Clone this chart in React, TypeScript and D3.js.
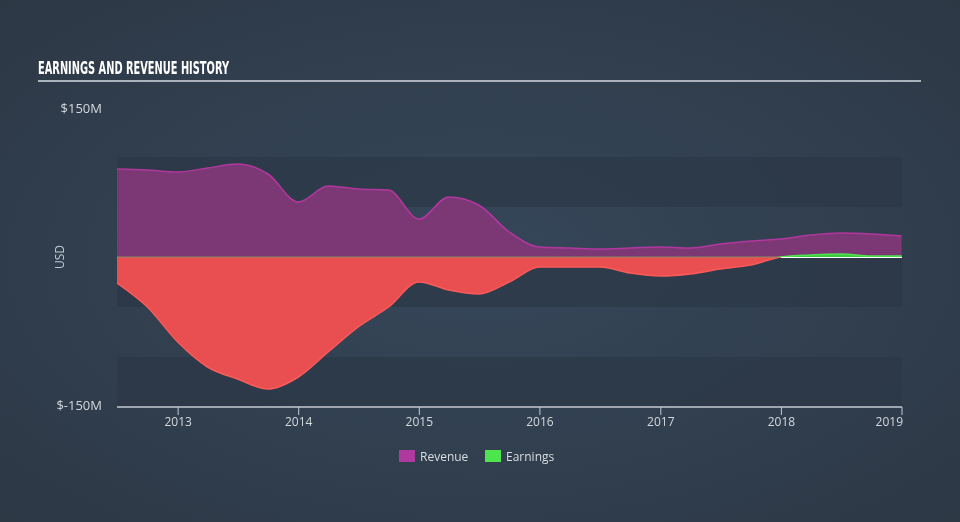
import React from "react";
import * as d3 from "d3";

const quarterDates: string[] = [
  "2012-06-30", "2012-09-30", "2012-12-31",
  "2013-03-31", "2013-06-30", "2013-09-30", "2013-12-31",
  "2014-03-31", "2014-06-30", "2014-09-30", "2014-12-31",
  "2015-03-31", "2015-06-30", "2015-09-30", "2015-12-31",
  "2016-03-31", "2016-06-30", "2016-09-30", "2016-12-31",
  "2017-03-31", "2017-06-30", "2017-09-30", "2017-12-31",
  "2018-03-31", "2018-06-30", "2018-09-30", "2018-12-31",
];
const revenue: number[] = [88, 87, 85, 89, 93, 83, 55, 71, 68, 67, 38, 60, 52, 25, 10, 9, 8, 9, 10, 9, 13, 16, 18, 22, 24, 23, 21];
const earnings: number[] = [-26, -50, -85, -110, -122, -132, -120, -95, -70, -50, -25, -33, -37, -25, -10, -10, -10, -16, -19, -17, -12, -8, 0, 2, 3, 1, 1];
const yearTicks: string[] = ["2013", "2014", "2015", "2016", "2017", "2018", "2019"];
const yTickLabels: { v: number; label: string }[] = [
  { v: 150, label: "$150M" },
  { v: -150, label: "$-150M" },
];
const bandRanges: [number, number][] = [[50, 100], [-50, 0], [-150, -100]];
const legendItems = [
  { name: "Revenue", color: "#b0399f" },
  { name: "Earnings", color: "#4ee44e" },
];

const W = 960, H = 522;
const M = { left: 117, right: 902, top: 107, bottom: 407 };

export default function App() {
  const parse = d3.timeParse("%Y-%m-%d");
  const dates = quarterDates.map((s) => parse(s) as Date);
  const data = dates.map((d, i) => ({ d, r: revenue[i], e: earnings[i] }));

  const x = d3.scaleTime().domain([dates[0], new Date(2019, 0, 1)]).range([M.left, M.right]);
  const y = d3.scaleLinear().domain([-150, 150]).range([M.bottom, M.top]);
  const curve = d3.curveMonotoneX;

  const revArea = d3.area<any>().x((p) => x(p.d)).y0(y(0)).y1((p) => y(p.r)).curve(curve);
  const revLine = d3.line<any>().x((p) => x(p.d)).y((p) => y(p.r)).curve(curve);
  const earnArea = d3.area<any>().x((p) => x(p.d)).y0(y(0)).y1((p) => y(p.e)).curve(curve);
  const earnLine = d3.line<any>().x((p) => x(p.d)).y((p) => y(p.e)).curve(curve);

  // crossing where earnings turns positive
  let crossX = x(dates[dates.length - 1]);
  for (let i = 1; i < data.length; i++) {
    if (data[i - 1].e < 0 && data[i].e >= 0) {
      const t = (0 - data[i - 1].e) / (data[i].e - data[i - 1].e);
      crossX = x(data[i - 1].d) + t * (x(data[i].d) - x(data[i - 1].d));
    }
  }

  const tickDates = yearTicks.map((t) => new Date(+t, 0, 1));
  const legendX = 399;
  const legendGap = 86;

  return (
    <svg width={W} height={H} style={{ position: "fixed", left: 0, top: 0, display: "block" }}>
      <defs>
        <radialGradient id="bg" cx="50%" cy="50%" r="70%">
          <stop offset="0%" stopColor="#36475a" />
          <stop offset="100%" stopColor="#2d3845" />
        </radialGradient>
        <clipPath id="pos">
          <rect x={M.left} y={M.top - 10} width={M.right - M.left} height={y(0) - M.top + 10} />
        </clipPath>
        <clipPath id="neg">
          <rect x={M.left} y={y(0)} width={M.right - M.left} height={M.bottom - y(0)} />
        </clipPath>
      </defs>
      <rect x={0} y={0} width={W} height={H} fill="url(#bg)" />

      {/* title */}
      <text
        x={38}
        y={74}
        fontFamily="'Liberation Sans Narrow', 'DejaVu Sans Condensed', sans-serif"
        fontWeight="bold"
        fontSize={18}
        fill="#ffffff"
        textLength={191}
        lengthAdjust="spacingAndGlyphs"
      >
        EARNINGS AND REVENUE HISTORY
      </text>
      <line x1={38} x2={921} y1={81} y2={81} stroke="#aab2bb" strokeWidth={2} />

      {/* bands */}
      {bandRanges.map(([a, b], i) => (
        <rect key={i} x={M.left} width={M.right - M.left} y={y(b)} height={y(a) - y(b)} fill="#2c3847" opacity={0.75} />
      ))}

      {/* revenue */}
      <path d={revArea(data) || ""} fill="#7b3874" />
      <path d={revLine(data) || ""} fill="none" stroke="#b2379e" strokeWidth={1.5} />

      {/* earnings negative */}
      <g clipPath="url(#neg)">
        <path d={earnArea(data) || ""} fill="#e94f50" />
        <path d={earnLine(data) || ""} fill="none" stroke="#fa5a5a" strokeWidth={1.5} />
      </g>
      {/* zero line */}
      <line x1={M.left} x2={crossX} y1={y(0)} y2={y(0)} stroke="#8c8a5c" strokeWidth={1} />
      <line x1={crossX} x2={M.right} y1={y(0) + 0.5} y2={y(0) + 0.5} stroke="#ffffff" strokeWidth={1} />
      {/* earnings positive */}
      <g clipPath="url(#pos)">
        <path d={earnArea(data) || ""} fill="#3fc83f" />
        <path d={earnLine(data) || ""} fill="none" stroke="#4ee44e" strokeWidth={1.5} />
      </g>

      {/* x axis */}
      <line x1={M.left} x2={M.right} y1={M.bottom} y2={M.bottom} stroke="#c3cad2" strokeWidth={1.5} />
      {tickDates.map((d, i) => (
        <g key={i} transform={`translate(${x(d)},${M.bottom})`}>
          <line y1={0} y2={8} stroke="#c3cad2" strokeWidth={1} />
          <text
            y={19}
            textAnchor={i === tickDates.length - 1 ? "end" : "middle"}
            dx={i === tickDates.length - 1 ? 1 : 0}
            fontFamily="'Open Sans', sans-serif"
            fontSize={12}
            fill="#d3d8de"
          >
            {yearTicks[i]}
          </text>
        </g>
      ))}

      {/* y labels */}
      {yTickLabels.map((t, i) => (
        <text
          key={i}
          x={102}
          y={y(t.v) + (t.v > 0 ? 6 : 3)}
          textAnchor="end"
          fontFamily="'Open Sans', sans-serif"
          fontSize={13}
          fill="#d3d8de"
        >
          {t.label}
        </text>
      ))}
      <text
        transform={`translate(64,${y(0)}) rotate(-90)`}
        textAnchor="middle"
        fontFamily="'Open Sans', sans-serif"
        fontSize={12}
        fill="#c3cad2"
      >
        USD
      </text>

      {/* legend */}
      {legendItems.map((l, i) => (
        <g key={l.name} transform={`translate(${legendX + i * legendGap},450)`}>
          <rect x={0} y={0} width={16} height={12} fill={l.color} />
          <text x={21} y={11} fontFamily="'Open Sans', sans-serif" fontSize={12} fill="#d8dde2">
            {l.name}
          </text>
        </g>
      ))}
    </svg>
  );
}
